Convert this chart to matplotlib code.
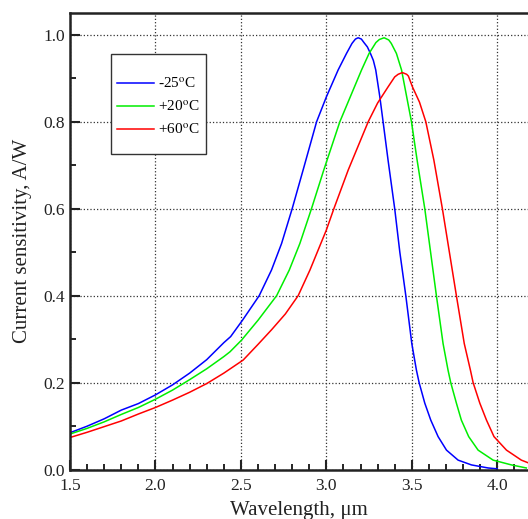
import matplotlib
matplotlib.use('Agg')
import matplotlib.pyplot as plt
from matplotlib.ticker import MultipleLocator
from matplotlib.patches import Rectangle

#     *****     data     *****
wl_m25 = [1.5, 1.6, 1.7, 1.8, 1.9, 2.0, 2.1, 2.2, 2.3, 2.4, 2.44, 2.51, 2.607,
          2.679, 2.738, 2.80, 2.864, 2.943, 3.0, 3.069, 3.118, 3.15, 3.17, 3.186,
          3.205, 3.22, 3.24, 3.258, 3.275, 3.289, 3.313, 3.332, 3.361, 3.40, 3.43,
          3.465, 3.50, 3.527, 3.543, 3.576, 3.611, 3.654, 3.703, 3.771, 3.849,
          3.946, 4.0]
sens_m25 = [0.085, 0.100, 0.117, 0.137, 0.152, 0.172, 0.195, 0.222, 0.253, 0.292,
            0.306, 0.344, 0.40, 0.459, 0.52, 0.60, 0.689, 0.80, 0.857, 0.919,
            0.957, 0.980, 0.990, 0.993, 0.990, 0.982, 0.972, 0.957, 0.941, 0.919,
            0.857, 0.80, 0.712, 0.60, 0.50, 0.40, 0.29, 0.229, 0.20, 0.153,
            0.114, 0.076, 0.045, 0.022, 0.011, 0.004, 0.002]

wl_p20 = [1.5, 1.6, 1.7, 1.8, 1.9, 2.0, 2.1, 2.2, 2.3, 2.4, 2.436, 2.504, 2.601,
          2.709, 2.783, 2.845, 2.913, 2.985, 3.079, 3.206, 3.25, 3.29, 3.31, 3.338,
          3.365, 3.38, 3.41, 3.44, 3.498, 3.531, 3.576, 3.61, 3.644, 3.683, 3.712,
          3.728, 3.761, 3.79, 3.833, 3.888, 3.976, 4.083, 4.17]
sens_p20 = [0.082, 0.095, 0.110, 0.127, 0.143, 0.162, 0.183, 0.207, 0.232, 0.260,
            0.271, 0.298, 0.344, 0.40, 0.459, 0.52, 0.60, 0.689, 0.80, 0.919,
            0.957, 0.982, 0.989, 0.993, 0.988, 0.980, 0.957, 0.919, 0.80, 0.712,
            0.60, 0.50, 0.40, 0.29, 0.229, 0.20, 0.153, 0.114, 0.076, 0.045,
            0.022, 0.011, 0.004]

wl_p60 = [1.5, 1.6, 1.7, 1.8, 1.9, 2.0, 2.1, 2.2, 2.3, 2.4, 2.513, 2.6, 2.68,
          2.76, 2.835, 2.904, 3.0, 3.044, 3.128, 3.245, 3.30, 3.361, 3.40, 3.42,
          3.445, 3.47, 3.48, 3.504, 3.545, 3.582, 3.629, 3.679, 3.72, 3.761,
          3.807, 3.843, 3.859, 3.898, 3.937, 3.981, 4.054, 4.141, 4.18]
sens_p60 = [0.074, 0.086, 0.099, 0.112, 0.128, 0.143, 0.160, 0.178, 0.198, 0.222,
            0.252, 0.288, 0.322, 0.358, 0.40, 0.459, 0.551, 0.60, 0.689, 0.80,
            0.843, 0.880, 0.903, 0.909, 0.913, 0.909, 0.905, 0.880, 0.845, 0.80,
            0.712, 0.60, 0.50, 0.40, 0.29, 0.229, 0.20, 0.153, 0.114, 0.076,
            0.045, 0.022, 0.016]

labels = ['-25$^{\\rm o}$C', '+20$^{\\rm o}$C', '+60$^{\\rm o}$C']
colors = ['#0000ff', '#00ee00', '#ff0000']

#     *****     figure     *****
plt.rcParams['font.family'] = ['Liberation Serif', 'DejaVu Serif']
plt.rcParams['mathtext.fontset'] = 'stix'

fig = plt.figure(figsize=(5.28, 5.19), dpi=100)
ax = fig.add_axes([0.1326, 0.095, 0.8674, 0.88])

series = [(wl_m25, sens_m25), (wl_p20, sens_p20), (wl_p60, sens_p60)]
for (x, y), lab, c in zip(series, labels, colors):
    ax.plot(x, y, color=c, lw=1.1, label=lab, solid_joinstyle='round')

ax.set_xlim(1.5, 4.18)
ax.set_ylim(0.0, 1.05)
ax.xaxis.set_major_locator(MultipleLocator(0.5))
ax.xaxis.set_minor_locator(MultipleLocator(0.1))
ax.yaxis.set_major_locator(MultipleLocator(0.2))
ax.yaxis.set_minor_locator(MultipleLocator(0.1))
ax.xaxis.set_major_formatter(plt.FormatStrFormatter('%.1f'))
ax.yaxis.set_major_formatter(plt.FormatStrFormatter('%.1f'))

ax.tick_params(which='major', direction='in', length=7, width=1.5, labelsize=12.5, colors='#222222')
ax.tick_params(which='minor', direction='in', length=4, width=1.2)
ax.tick_params(axis='x', pad=6)
ax.grid(True, which='major', ls=':', color='#333333', lw=0.9)

for s in ['left', 'bottom', 'top']:
    ax.spines[s].set_linewidth(1.8)
    ax.spines[s].set_color('#222222')
ax.spines['right'].set_visible(False)

ax.set_xlabel('Wavelength, μm', fontsize=15, labelpad=5, color='#222222')
ax.set_ylabel('Current sensitivity, A/W', fontsize=15, labelpad=8, color='#222222')

# legend box drawn separately, entries without frame
ax.add_patch(Rectangle((0.0895, 0.691), 0.2075, 0.219, transform=ax.transAxes,
                       facecolor='white', edgecolor='#333333', lw=1.0, zorder=4))
leg = ax.legend(loc='upper left', bbox_to_anchor=(0.1026, 0.861), borderaxespad=0,
                borderpad=0, fontsize=11, frameon=False, handlelength=2.42,
                handletextpad=0.26, labelspacing=0.55)
leg.set_zorder(5)

fig.savefig('out.png', dpi=100)
